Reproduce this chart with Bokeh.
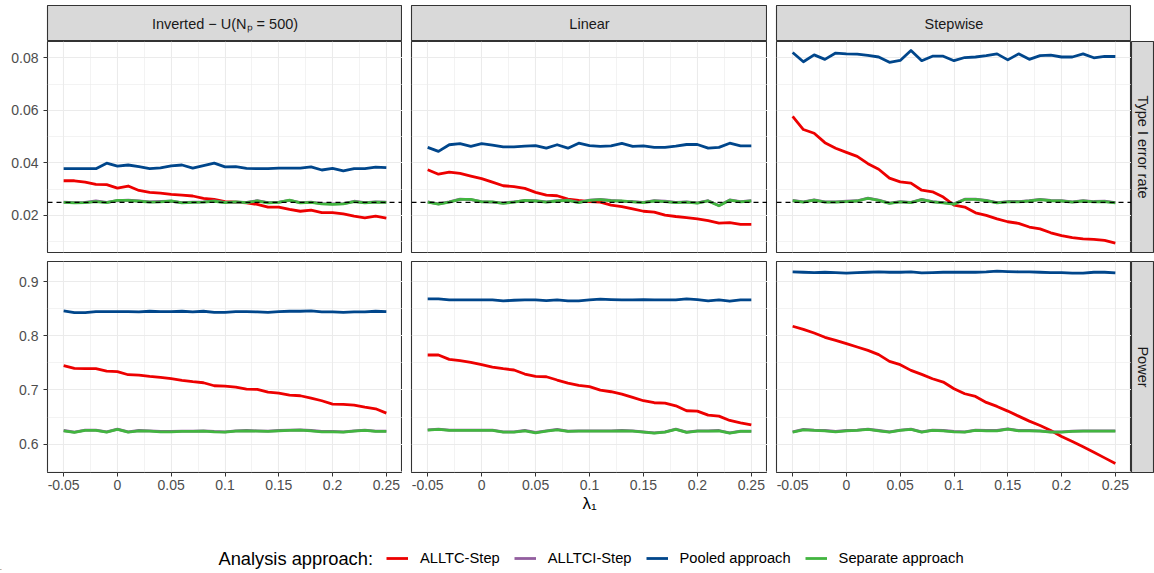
import math
from bokeh.plotting import figure
from bokeh.models import Range1d, FixedTicker, Legend, LegendItem, Span, NumeralTickFormatter
from bokeh.layouts import row, column
from bokeh.embed import file_html
from bokeh.resources import INLINE
from bokeh.core.properties import value

FONT = "Liberation Sans"

# ---------------- data ----------------
LAMBDA = [-0.05, -0.04, -0.03, -0.02, -0.01, 0.0, 0.01, 0.02, 0.03, 0.04, 0.05,
          0.06, 0.07, 0.08, 0.09, 0.10, 0.11, 0.12, 0.13, 0.14, 0.15, 0.16,
          0.17, 0.18, 0.19, 0.20, 0.21, 0.22, 0.23, 0.24, 0.25]

SCENARIOS = ["Inverted \u2212 U(N\u209a = 500)", "Linear", "Stepwise"]
METRICS = ["Type I error rate", "Power"]
APPROACHES = ["ALLTC-Step", "ALLTCI-Step", "Pooled approach", "Separate approach"]
COLORS = ["#ED0000", "#925E9F", "#00468B", "#42B540"]
LEGEND_TITLE = "Analysis approach:"
X_TITLE = "\u03bb\u2081"
ALPHA_LEVEL = 0.025

X_TICKS = [-0.05, 0.0, 0.05, 0.1, 0.15, 0.2, 0.25]
X_MINOR = [-0.025, 0.025, 0.075, 0.125, 0.175, 0.225]
Y_TICKS = [[0.02, 0.04, 0.06, 0.08], [0.6, 0.7, 0.8, 0.9]]
Y_MINOR = [[0.01, 0.03, 0.05, 0.07], [0.55, 0.65, 0.75, 0.85]]
Y_RANGES = [(0.0059, 0.0862), (0.5477, 0.937)]
X_RANGE = (-0.065, 0.265)

# Type I error rate
INVU_T1_ALLTC = [0.0332, 0.0332, 0.0327, 0.0318, 0.0317, 0.0304, 0.0312, 0.0295, 0.0288, 0.0285, 0.0280,
                 0.0277, 0.0274, 0.0265, 0.0261, 0.0253, 0.0251, 0.0248, 0.0242, 0.0232, 0.0232, 0.0223,
                 0.0216, 0.0220, 0.0211, 0.0211, 0.0206, 0.0197, 0.0191, 0.0197, 0.0190]
INVU_T1_ALLTCI = [0.0251, 0.0249, 0.0250, 0.0255, 0.0250, 0.0256, 0.0258, 0.0255, 0.0252, 0.0253, 0.0254,
                  0.0249, 0.0251, 0.0252, 0.0255, 0.0250, 0.0251, 0.0250, 0.0256, 0.0249, 0.0251, 0.0257,
                  0.0249, 0.0251, 0.0245, 0.0244, 0.0245, 0.0254, 0.0249, 0.0252, 0.0251]
INVU_T1_POOLED = [0.0378, 0.0378, 0.0378, 0.0378, 0.0399, 0.0388, 0.0392, 0.0386, 0.0378, 0.0381, 0.0389,
                  0.0392, 0.0380, 0.0390, 0.0399, 0.0385, 0.0386, 0.0379, 0.0378, 0.0378, 0.0380, 0.0380,
                  0.0380, 0.0385, 0.0373, 0.0379, 0.0370, 0.0378, 0.0378, 0.0384, 0.0382]
INVU_T1_SEP = [0.0250, 0.0248, 0.0249, 0.0253, 0.0249, 0.0257, 0.0257, 0.0254, 0.0251, 0.0252, 0.0255,
               0.0248, 0.0250, 0.0251, 0.0254, 0.0249, 0.0252, 0.0249, 0.0255, 0.0248, 0.0250, 0.0258,
               0.0248, 0.0250, 0.0244, 0.0242, 0.0244, 0.0253, 0.0248, 0.0251, 0.0250]

LIN_T1_ALLTC = [0.0374, 0.0357, 0.0365, 0.0360, 0.0350, 0.0340, 0.0327, 0.0313, 0.0310, 0.0303, 0.0288,
                0.0277, 0.0275, 0.0262, 0.0257, 0.0253, 0.0251, 0.0239, 0.0234, 0.0225, 0.0216, 0.0213,
                0.0201, 0.0196, 0.0192, 0.0187, 0.0180, 0.0171, 0.0173, 0.0166, 0.0166]
LIN_T1_ALLTCI = [0.0252, 0.0244, 0.0252, 0.0262, 0.0260, 0.0253, 0.0251, 0.0247, 0.0252, 0.0256, 0.0256,
                 0.0252, 0.0256, 0.0258, 0.0250, 0.0258, 0.0261, 0.0257, 0.0254, 0.0253, 0.0250, 0.0256,
                 0.0254, 0.0250, 0.0252, 0.0248, 0.0256, 0.0238, 0.0259, 0.0253, 0.0256]
LIN_T1_POOLED = [0.0459, 0.0444, 0.0469, 0.0473, 0.0463, 0.0473, 0.0468, 0.0461, 0.0461, 0.0464, 0.0466,
                 0.0456, 0.0469, 0.0456, 0.0475, 0.0466, 0.0463, 0.0465, 0.0474, 0.0463, 0.0465, 0.0459,
                 0.0459, 0.0464, 0.0470, 0.0470, 0.0456, 0.0459, 0.0475, 0.0465, 0.0465]
LIN_T1_SEP = [0.0251, 0.0243, 0.0251, 0.0261, 0.0261, 0.0252, 0.0252, 0.0246, 0.0251, 0.0257, 0.0255,
              0.0251, 0.0255, 0.0257, 0.0249, 0.0257, 0.0260, 0.0256, 0.0255, 0.0252, 0.0249, 0.0255,
              0.0253, 0.0249, 0.0251, 0.0247, 0.0255, 0.0237, 0.0258, 0.0252, 0.0255]

STEP_T1_ALLTC = [0.0577, 0.0527, 0.0513, 0.0477, 0.0456, 0.0440, 0.0425, 0.0397, 0.0376, 0.0342, 0.0328,
                 0.0323, 0.0296, 0.0290, 0.0270, 0.0239, 0.0232, 0.0210, 0.0200, 0.0187, 0.0176, 0.0170,
                 0.0156, 0.0149, 0.0134, 0.0123, 0.0116, 0.0111, 0.0109, 0.0105, 0.0095]
STEP_T1_ALLTCI = [0.0257, 0.0252, 0.0259, 0.0252, 0.0252, 0.0254, 0.0256, 0.0266, 0.0258, 0.0247, 0.0253,
                  0.0250, 0.0261, 0.0253, 0.0249, 0.0244, 0.0262, 0.0262, 0.0257, 0.0249, 0.0253, 0.0253,
                  0.0256, 0.0261, 0.0257, 0.0256, 0.0252, 0.0256, 0.0253, 0.0254, 0.0249]
STEP_T1_POOLED = [0.0820, 0.0785, 0.0811, 0.0794, 0.0818, 0.0815, 0.0814, 0.0809, 0.0803, 0.0783, 0.0790,
                  0.0828, 0.0789, 0.0806, 0.0806, 0.0789, 0.0801, 0.0803, 0.0808, 0.0815, 0.0792, 0.0815,
                  0.0794, 0.0808, 0.0810, 0.0803, 0.0803, 0.0815, 0.0800, 0.0805, 0.0805]
STEP_T1_SEP = [0.0256, 0.0251, 0.0258, 0.0251, 0.0251, 0.0253, 0.0255, 0.0265, 0.0257, 0.0246, 0.0252,
               0.0249, 0.0260, 0.0252, 0.0248, 0.0243, 0.0261, 0.0261, 0.0256, 0.0248, 0.0252, 0.0252,
               0.0255, 0.0260, 0.0256, 0.0255, 0.0251, 0.0255, 0.0252, 0.0253, 0.0248]

# Power
INVU_PW_ALLTC = [0.7448, 0.7398, 0.7392, 0.7392, 0.7349, 0.7337, 0.7281, 0.7275, 0.7250, 0.7232, 0.7207,
                 0.7177, 0.7152, 0.7133, 0.7078, 0.7072, 0.7053, 0.7016, 0.7010, 0.6961, 0.6942, 0.6906,
                 0.6893, 0.6850, 0.6801, 0.6739, 0.6733, 0.6721, 0.6684, 0.6653, 0.6573]
INVU_PW_ALLTCI = [0.6252, 0.6222, 0.6259, 0.6259, 0.6228, 0.6277, 0.6228, 0.6252, 0.6246, 0.6234, 0.6234,
                  0.6240, 0.6240, 0.6246, 0.6234, 0.6228, 0.6246, 0.6252, 0.6246, 0.6240, 0.6252, 0.6259,
                  0.6265, 0.6252, 0.6234, 0.6234, 0.6228, 0.6246, 0.6259, 0.6240, 0.6240]
INVU_PW_POOLED = [0.8458, 0.8427, 0.8427, 0.8446, 0.8446, 0.8446, 0.8446, 0.8440, 0.8452, 0.8446, 0.8446,
                  0.8452, 0.8440, 0.8452, 0.8433, 0.8433, 0.8446, 0.8446, 0.8440, 0.8433, 0.8446, 0.8452,
                  0.8452, 0.8458, 0.8440, 0.8440, 0.8433, 0.8440, 0.8440, 0.8452, 0.8446]
INVU_PW_SEP = [0.6246, 0.6216, 0.6253, 0.6253, 0.6222, 0.6271, 0.6222, 0.6246, 0.6240, 0.6228, 0.6228,
               0.6234, 0.6234, 0.6240, 0.6228, 0.6222, 0.6240, 0.6246, 0.6240, 0.6234, 0.6246, 0.6253,
               0.6259, 0.6246, 0.6228, 0.6228, 0.6222, 0.6240, 0.6253, 0.6234, 0.6234]

LIN_PW_ALLTC = [0.7645, 0.7645, 0.7565, 0.7540, 0.7509, 0.7466, 0.7423, 0.7392, 0.7368, 0.7294, 0.7250,
                0.7244, 0.7183, 0.7127, 0.7084, 0.7060, 0.6998, 0.6967, 0.6924, 0.6862, 0.6801, 0.6764,
                0.6758, 0.6708, 0.6616, 0.6610, 0.6536, 0.6517, 0.6437, 0.6394, 0.6357]
LIN_PW_ALLTCI = [0.6265, 0.6277, 0.6259, 0.6259, 0.6259, 0.6259, 0.6259, 0.6228, 0.6228, 0.6252, 0.6216,
                 0.6246, 0.6271, 0.6240, 0.6246, 0.6246, 0.6246, 0.6246, 0.6252, 0.6246, 0.6228, 0.6209,
                 0.6228, 0.6277, 0.6222, 0.6246, 0.6246, 0.6252, 0.6209, 0.6240, 0.6240]
LIN_PW_POOLED = [0.8680, 0.8680, 0.8661, 0.8661, 0.8661, 0.8661, 0.8661, 0.8643, 0.8655, 0.8661, 0.8661,
                 0.8649, 0.8661, 0.8643, 0.8643, 0.8661, 0.8674, 0.8668, 0.8661, 0.8661, 0.8668, 0.8661,
                 0.8661, 0.8661, 0.8680, 0.8668, 0.8643, 0.8661, 0.8637, 0.8661, 0.8661]
LIN_PW_SEP = [0.6259, 0.6271, 0.6253, 0.6253, 0.6253, 0.6253, 0.6253, 0.6222, 0.6222, 0.6246, 0.6209,
              0.6240, 0.6265, 0.6234, 0.6240, 0.6240, 0.6240, 0.6240, 0.6246, 0.6240, 0.6222, 0.6203,
              0.6222, 0.6271, 0.6216, 0.6240, 0.6240, 0.6246, 0.6203, 0.6234, 0.6234]

STEP_PW_ALLTC = [0.8175, 0.8119, 0.8051, 0.7971, 0.7916, 0.7854, 0.7793, 0.7731, 0.7651, 0.7528, 0.7466,
                 0.7361, 0.7287, 0.7207, 0.7146, 0.7023, 0.6930, 0.6881, 0.6770, 0.6696, 0.6610, 0.6517,
                 0.6425, 0.6345, 0.6253, 0.6142, 0.6049, 0.5951, 0.5852, 0.5747, 0.5643]
STEP_PW_ALLTCI = [0.6228, 0.6271, 0.6259, 0.6252, 0.6234, 0.6252, 0.6259, 0.6277, 0.6252, 0.6228, 0.6259,
                  0.6277, 0.6228, 0.6259, 0.6252, 0.6234, 0.6228, 0.6259, 0.6252, 0.6252, 0.6283, 0.6252,
                  0.6252, 0.6246, 0.6228, 0.6228, 0.6240, 0.6246, 0.6246, 0.6246, 0.6246]
STEP_PW_POOLED = [0.9179, 0.9172, 0.9166, 0.9172, 0.9166, 0.9154, 0.9166, 0.9172, 0.9179, 0.9172, 0.9172,
                  0.9179, 0.9160, 0.9166, 0.9172, 0.9172, 0.9172, 0.9172, 0.9179, 0.9191, 0.9185, 0.9179,
                  0.9179, 0.9172, 0.9166, 0.9166, 0.9154, 0.9154, 0.9172, 0.9172, 0.9160]
STEP_PW_SEP = [0.6222, 0.6265, 0.6253, 0.6246, 0.6228, 0.6246, 0.6253, 0.6271, 0.6246, 0.6222, 0.6253,
               0.6271, 0.6222, 0.6253, 0.6246, 0.6228, 0.6222, 0.6253, 0.6246, 0.6246, 0.6277, 0.6246,
               0.6246, 0.6240, 0.6222, 0.6222, 0.6234, 0.6240, 0.6240, 0.6240, 0.6240]

DATA = [
    [[INVU_T1_ALLTC, INVU_T1_ALLTCI, INVU_T1_POOLED, INVU_T1_SEP],
     [LIN_T1_ALLTC, LIN_T1_ALLTCI, LIN_T1_POOLED, LIN_T1_SEP],
     [STEP_T1_ALLTC, STEP_T1_ALLTCI, STEP_T1_POOLED, STEP_T1_SEP]],
    [[INVU_PW_ALLTC, INVU_PW_ALLTCI, INVU_PW_POOLED, INVU_PW_SEP],
     [LIN_PW_ALLTC, LIN_PW_ALLTCI, LIN_PW_POOLED, LIN_PW_SEP],
     [STEP_PW_ALLTC, STEP_PW_ALLTCI, STEP_PW_POOLED, STEP_PW_SEP]],
]

# ---------------- layout (page has no margin: coordinates are screen pixels) ----------------
LEFTS = [47, 9, 9]
FRAME_W = [355, 356, 355]
FRAME_H = 211
BOTTOMS = [9, 52]
STRIP_TOP = 5
STRIP_H = 36
RSTRIP_W = 23
GRID_COL = "#EBEBEB"
BORDER_COL = "#333333"
STRIP_FILL = "#D9D9D9"
LINE_W = 2.8


def make_panel(r, c):
    p = figure(width=LEFTS[c] + FRAME_W[c], height=FRAME_H + BOTTOMS[r],
               x_range=Range1d(*X_RANGE), y_range=Range1d(*Y_RANGES[r]),
               output_backend="svg", toolbar_location=None,
               min_border_left=LEFTS[c], min_border_right=0,
               min_border_top=0, min_border_bottom=BOTTOMS[r])
    p.background_fill_color = "white"
    p.border_fill_color = "white"
    p.outline_line_color = BORDER_COL
    p.outline_line_width = 1.1

    xt = FixedTicker(ticks=X_TICKS, minor_ticks=X_MINOR)
    yt = FixedTicker(ticks=Y_TICKS[r], minor_ticks=Y_MINOR[r])
    p.xaxis.ticker = xt
    p.yaxis.ticker = yt
    p.xgrid.ticker = xt
    p.ygrid.ticker = yt
    for g in (p.xgrid, p.ygrid):
        g.grid_line_color = GRID_COL
        g.grid_line_width = 1.1
        g.minor_grid_line_color = GRID_COL
        g.minor_grid_line_width = 0.6

    for ax in (p.xaxis, p.yaxis):
        ax.formatter = NumeralTickFormatter(format="0.[00]")
        ax.axis_line_color = None
        ax.major_tick_line_color = BORDER_COL
        ax.major_tick_out = 4
        ax.major_tick_in = 0
        ax.minor_tick_line_color = None
        ax.major_label_text_font = FONT
        ax.major_label_text_font_size = "14px"
        ax.major_label_text_color = "#4D4D4D"
    p.xaxis.major_label_standoff = 3
    p.yaxis.major_label_standoff = 5

    if r == 0:
        p.xaxis.visible = False
    if c != 0:
        p.yaxis.visible = False
    if r == 1 and c == 1:
        p.xaxis.axis_label = X_TITLE
        p.xaxis.axis_label_text_font = FONT
        p.xaxis.axis_label_text_font_size = "17px"
        p.xaxis.axis_label_text_font_style = "normal"
        p.xaxis.axis_label_text_color = "#000000"
        p.xaxis.axis_label_standoff = 1

    for series, col in zip(DATA[r][c], COLORS):
        p.line(LAMBDA, series, line_color=col, line_width=LINE_W, line_join="round")

    if r == 0:
        p.add_layout(Span(location=ALPHA_LEVEL, dimension="width", line_color="black",
                          line_dash="5 4", line_width=1.3))
    return p


def make_top_strip(c):
    s = figure(width=LEFTS[c] + FRAME_W[c], height=STRIP_TOP + STRIP_H,
               x_range=Range1d(0, 1), y_range=Range1d(0, 1),
               x_axis_location=None, y_axis_location=None,
               output_backend="svg", toolbar_location=None,
               min_border_left=LEFTS[c], min_border_right=0,
               min_border_top=STRIP_TOP, min_border_bottom=0)
    s.grid.visible = False
    s.background_fill_color = STRIP_FILL
    s.border_fill_color = "white"
    s.outline_line_color = BORDER_COL
    s.outline_line_width = 1.1
    s.text(x=[0.5], y=[0.5], text=[SCENARIOS[c]], text_align="center",
           text_baseline="middle", text_font=value(FONT), text_font_size="14.5px",
           text_color="#1A1A1A")
    return s


def make_right_strip(r):
    s = figure(width=RSTRIP_W, height=FRAME_H + BOTTOMS[r],
               x_range=Range1d(0, 1), y_range=Range1d(0, 1),
               x_axis_location=None, y_axis_location=None,
               output_backend="svg", toolbar_location=None,
               min_border_left=0, min_border_right=0,
               min_border_top=0, min_border_bottom=BOTTOMS[r])
    s.grid.visible = False
    s.background_fill_color = STRIP_FILL
    s.border_fill_color = "white"
    s.outline_line_color = BORDER_COL
    s.outline_line_width = 1.1
    s.text(x=[0.5], y=[0.5], text=[METRICS[r]], text_align="center",
           text_baseline="middle", angle=-math.pi / 2, text_font=value(FONT),
           text_font_size="14.5px", text_color="#1A1A1A")
    return s


strips = row([make_top_strip(c) for c in range(3)], spacing=0)
row1 = row([make_panel(0, c) for c in range(3)] + [make_right_strip(0)], spacing=0)
row2 = row([make_panel(1, c) for c in range(3)] + [make_right_strip(1)], spacing=0)

# legend strip: real lines drawn below its visible y-range, so only the legend keys show
LEG_W, LEG_H = 1154, 46
lg = figure(width=LEG_W, height=LEG_H, x_range=Range1d(0, LEG_W), y_range=Range1d(1, LEG_H + 1),
            x_axis_location=None, y_axis_location=None, output_backend="svg",
            toolbar_location=None, min_border=0)
lg.grid.visible = False
lg.outline_line_color = None
rends = [lg.line(LAMBDA, series, line_color=col, line_width=LINE_W)
         for series, col in zip(DATA[1][2], COLORS)]
legend = Legend(items=[LegendItem(label=a, renderers=[rd]) for a, rd in zip(APPROACHES, rends)],
                orientation="horizontal", location=(386, 2), padding=0, margin=0,
                spacing=14, label_standoff=12, glyph_width=22, glyph_height=20,
                label_height=20, label_text_font=FONT, label_text_font_size="14.7px",
                label_text_color="#000000", border_line_color=None,
                background_fill_alpha=0)
lg.add_layout(legend)
lg.text(x=[218], y=[13], text=[LEGEND_TITLE], text_baseline="middle", text_align="left",
        text_font=value(FONT), text_font_size="18.3px", text_color="#000000")

layout = column([strips, row1, row2, lg], spacing=0)

open("out.html", "w").write(file_html(layout, INLINE))
